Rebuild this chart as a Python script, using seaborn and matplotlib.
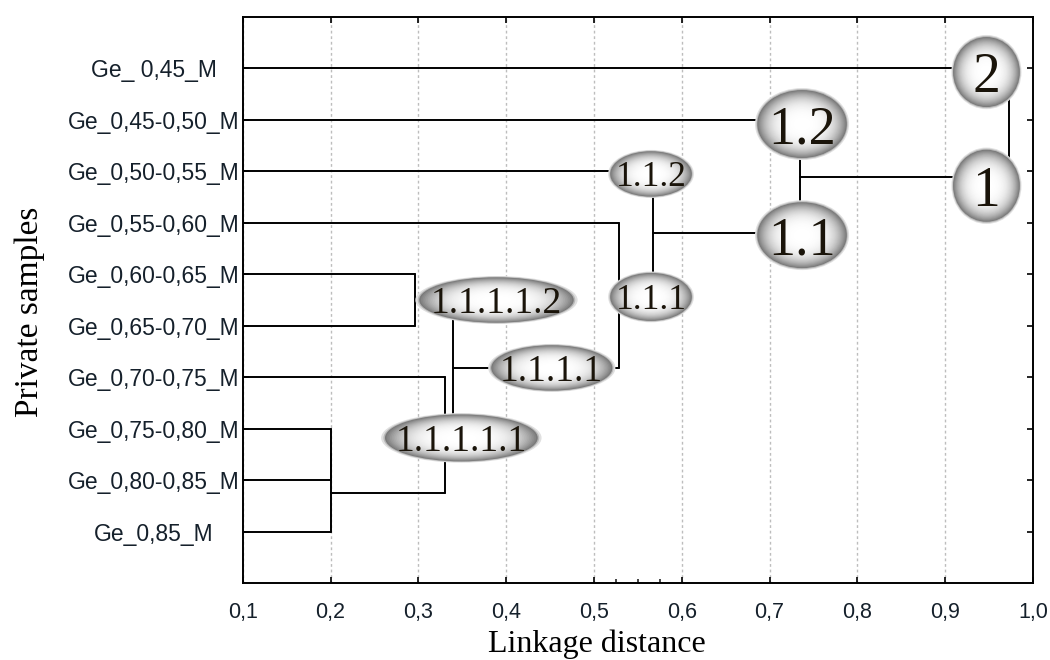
import numpy as np
import pandas as pd
import matplotlib
matplotlib.use("Agg")
import matplotlib.pyplot as plt
from matplotlib.patches import Ellipse
import seaborn as sns

# ========== DATA ==========
samples = ["Ge_ 0,45_M", "Ge_0,45-0,50_M", "Ge_0,50-0,55_M", "Ge_0,55-0,60_M",
           "Ge_0,60-0,65_M", "Ge_0,65-0,70_M", "Ge_0,70-0,75_M", "Ge_0,75-0,80_M",
           "Ge_0,80-0,85_M", "Ge_0,85_M"]

# merges: leaves are 0..9 (top to bottom), each merge creates cluster 10, 11, ...
merge_a = [7, 10, 6, 4, 13, 3, 2, 1, 0]
merge_b = [8, 9, 11, 5, 12, 14, 15, 16, 17]
merge_dist = [0.200, 0.201, 0.330, 0.296, 0.340, 0.529, 0.567, 0.735, 0.973]

x_ticks = [0.1, 0.2, 0.3, 0.4, 0.5, 0.6, 0.7, 0.8, 0.9, 1.0]
x_tick_labels = ["0,1", "0,2", "0,3", "0,4", "0,5", "0,6", "0,7", "0,8", "0,9", "1,0"]
minor_ticks = [0.525, 0.55, 0.575]

cluster_names = ["2", "1", "1.2", "1.1", "1.1.2", "1.1.1", "1.1.1.1.2", "1.1.1.1", "1.1.1.1.1"]

# badge layout (center x, center y, width, height, font size)
badge_x = [0.947, 0.947, 0.737, 0.737, 0.565, 0.565, 0.389, 0.452, 0.349]
badge_y = [1.07, 3.28, 2.08, 4.24, 3.05, 5.44, 5.50, 6.82, 8.18]
badge_w = [0.076, 0.076, 0.102, 0.102, 0.093, 0.093, 0.176, 0.138, 0.174]
badge_h = [1.36, 1.40, 1.32, 1.28, 0.88, 0.93, 0.88, 0.88, 0.91]
badge_fs = [40, 40, 39, 39, 25.5, 25.5, 27, 27, 27]

# ========== SEGMENTS ==========
n = len(samples)
pos_y = {i: i + 1 for i in range(n)}
pos_x = {i: 0.1 for i in range(n)}
rows = []
seg = 0
for k, (a, b, d) in enumerate(zip(merge_a, merge_b, merge_dist)):
    for c in (a, b):
        rows += [(seg, pos_x[c], pos_y[c]), (seg, d, pos_y[c])]
        seg += 1
    rows += [(seg, d, pos_y[a]), (seg, d, pos_y[b])]
    seg += 1
    pos_y[n + k] = (pos_y[a] + pos_y[b]) / 2
    pos_x[n + k] = d
segs = pd.DataFrame(rows, columns=["seg", "x", "y"])

# ========== PLOT ==========
sns.set_theme(style="white")
plt.rcParams["font.family"] = ["Liberation Sans", "DejaVu Sans"]

fig = plt.figure(figsize=(10.5, 6.6), dpi=100)
ax = fig.add_axes([242.7 / 1050, 1 - 583 / 660, (1033 - 242.7) / 1050, (583 - 17) / 660])

ax.grid(axis="x", linestyle=(0, (2, 2)), color="#bdbdbd", linewidth=1.0, zorder=0)
ax.grid(axis="y", visible=False)
ax.set_axisbelow(True)

sns.lineplot(data=segs, x="x", y="y", units="seg", estimator=None, sort=False,
             color="black", linewidth=1.4, ax=ax, zorder=2)


def badge(ax, x, y, w, h, text, fs):
    # soft halo, then a radial grey-to-white fill
    ax.add_patch(Ellipse((x, y), w * 1.05, h * 1.06, color="0.88", lw=0, zorder=3))
    ax.add_patch(Ellipse((x, y), w * 1.02, h * 1.03, color="0.72", lw=0, zorder=3))
    steps = 45
    for i in range(steps):
        s = 1 - i / steps
        g = 1 - 0.52 * s ** 3.6
        ax.add_patch(Ellipse((x, y), w * s, h * s, color=str(g), lw=0, zorder=3))
    ax.text(x, y, text, ha="center", va="center_baseline", fontsize=fs,
            family=["Liberation Serif", "DejaVu Serif"], color="#1a140a", zorder=4)


for nm, bx, by, bw, bh, fs in zip(cluster_names, badge_x, badge_y, badge_w, badge_h, badge_fs):
    badge(ax, bx, by, bw, bh, nm, fs)

ax.set_xlim(0.1, 1.0)
ax.set_ylim(11, 0)
ax.set_xticks(x_ticks, x_tick_labels)
ax.set_xticks(minor_ticks, minor=True)
ax.set_yticks(range(1, n + 1), samples)
for lab in ax.get_yticklabels():
    lab.set_horizontalalignment("center")

ax.tick_params(axis="both", which="major", direction="in", length=4, width=1.2,
               top=True, right=True, bottom=True, left=True, colors="black")
ax.tick_params(axis="x", which="minor", direction="in", length=3, width=1.2,
               top=False, bottom=True)
ax.tick_params(axis="x", labelsize=15.5, labelcolor="#15202b", pad=14)
ax.tick_params(axis="y", labelsize=16.5, labelcolor="#15202b", pad=64)

for sp in ax.spines.values():
    sp.set_color("black")
    sp.set_linewidth(1.4)

ax.set_xlabel("Linkage distance", fontsize=23, family=["Liberation Serif", "DejaVu Serif"],
              color="black")
ax.xaxis.set_label_coords((597 - 242.7) / 790.3, -(644 - 583) / 566)
ax.xaxis.label.set_verticalalignment("center")
ax.set_ylabel("Private samples", fontsize=24, family=["Liberation Serif", "DejaVu Serif"],
              color="black")
ax.yaxis.set_label_coords((30 - 242.7) / 790.3, (583 - 312) / 566)
ax.yaxis.label.set_verticalalignment("center")

fig.savefig("out.png", dpi=100)
